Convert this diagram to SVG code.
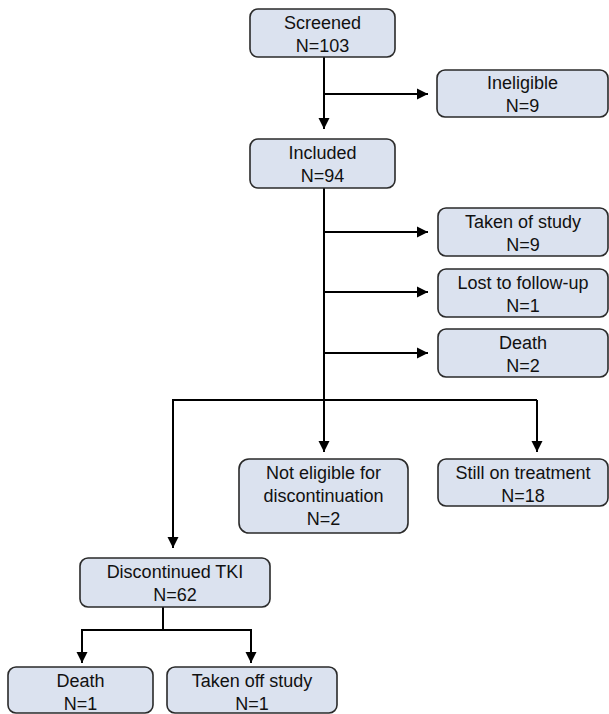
<svg xmlns="http://www.w3.org/2000/svg" width="609" height="714" viewBox="0 0 609 714">
<defs>
<marker id="ah" markerUnits="userSpaceOnUse" markerWidth="12" markerHeight="12" viewBox="0 0 12 12" refX="11" refY="6" orient="auto">
<path d="M0,0.5 L11,6 L0,11.5 Z" fill="#000"/>
</marker>
<style>
.box{fill:#dbe2ef;stroke:#2a2a2a;stroke-width:1.6}
.t{font-family:"Liberation Sans",Arial,sans-serif;font-size:18px;fill:#111;text-anchor:middle}
.c{fill:none;stroke:#000;stroke-width:2}
</style>
</defs>
<rect width="609" height="714" fill="#fff"/>
<g id="connectors">
<path class="c" d="M324,57 V129" marker-end="url(#ah)"/>
<path class="c" d="M324,94 H428" marker-end="url(#ah)"/>
<path class="c" d="M324,188 V400"/>
<path class="c" d="M324,232 H428" marker-end="url(#ah)"/>
<path class="c" d="M324,292 H428" marker-end="url(#ah)"/>
<path class="c" d="M324,353 H428" marker-end="url(#ah)"/>
<path class="c" d="M173,400 H537"/>
<path class="c" d="M324,400 V452" marker-end="url(#ah)"/>
<path class="c" d="M537,400 V452" marker-end="url(#ah)"/>
<path class="c" d="M173,399 V548" marker-end="url(#ah)"/>
<path class="c" d="M163,607 V630"/>
<path class="c" d="M81,630 H252"/>
<path class="c" d="M82,629 V663" marker-end="url(#ah)"/>
<path class="c" d="M251,629 V663" marker-end="url(#ah)"/>
</g>
<g id="screened"><rect class="box" x="250" y="9" width="145" height="48" rx="8"/><text class="t" x="322.5" y="29">Screened</text><text class="t" x="322.5" y="52">N=103</text></g>
<g id="ineligible"><rect class="box" x="437" y="70" width="171" height="47" rx="8"/><text class="t" x="522.5" y="89">Ineligible</text><text class="t" x="522.5" y="112">N=9</text></g>
<g id="included"><rect class="box" x="250" y="139" width="145" height="49" rx="8"/><text class="t" x="322.5" y="159">Included</text><text class="t" x="322.5" y="182">N=94</text></g>
<g id="taken-of-study"><rect class="box" x="438" y="208" width="170" height="48" rx="8"/><text class="t" x="523" y="228">Taken of study</text><text class="t" x="523" y="251">N=9</text></g>
<g id="lost"><rect class="box" x="438" y="269" width="170" height="48" rx="8"/><text class="t" x="523" y="289">Lost to follow-up</text><text class="t" x="523" y="312">N=1</text></g>
<g id="death1"><rect class="box" x="438" y="329" width="170" height="48" rx="8"/><text class="t" x="523" y="349">Death</text><text class="t" x="523" y="372">N=2</text></g>
<g id="not-eligible"><rect class="box" x="239" y="459" width="169" height="74" rx="10"/><text class="t" x="323.5" y="479">Not eligible for</text><text class="t" x="323.5" y="502">discontinuation</text><text class="t" x="323.5" y="525">N=2</text></g>
<g id="still-on"><rect class="box" x="438" y="459" width="170" height="47" rx="8"/><text class="t" x="523" y="479">Still on treatment</text><text class="t" x="523" y="502">N=18</text></g>
<g id="discontinued"><rect class="box" x="80" y="558" width="190" height="49" rx="8"/><text class="t" x="175" y="578">Discontinued TKI</text><text class="t" x="175" y="601">N=62</text></g>
<g id="death2"><rect class="box" x="8" y="667" width="145" height="46" rx="8"/><text class="t" x="80.5" y="687">Death</text><text class="t" x="80.5" y="710">N=1</text></g>
<g id="taken-off"><rect class="box" x="167" y="667" width="170" height="46" rx="8"/><text class="t" x="252" y="687">Taken off study</text><text class="t" x="252" y="710">N=1</text></g>
</svg>
